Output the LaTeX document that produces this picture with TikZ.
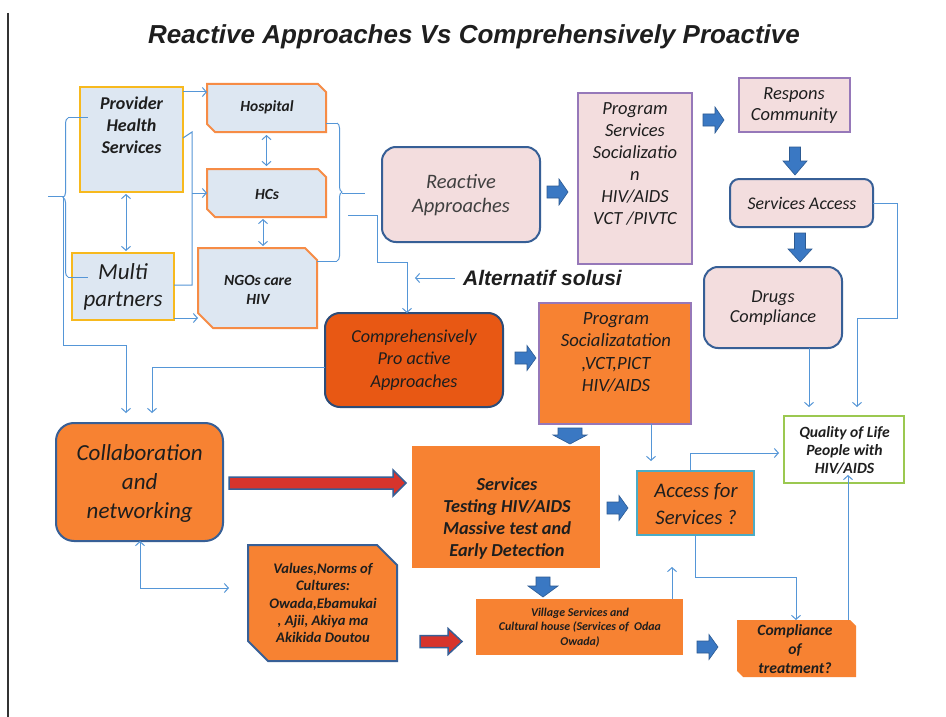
\documentclass[tikz,border=0pt]{standalone}
\usepackage{fontspec}
\setmainfont{Carlito}
\newfontfamily\arialf{Liberation Sans}
\usetikzlibrary{arrows.meta,decorations.pathreplacing}
\newcommand{\fsz}[2]{\fontsize{#1}{#2}\selectfont}
\definecolor{lbfill}{RGB}{221,231,242}
\definecolor{ybord}{RGB}{247,185,30}
\definecolor{obord}{RGB}{246,140,70}
\definecolor{pfill}{RGB}{243,221,222}
\definecolor{dblue}{RGB}{55,95,150}
\definecolor{purp}{RGB}{150,120,185}
\definecolor{ofill}{RGB}{247,130,50}
\definecolor{dofill}{RGB}{232,88,20}
\definecolor{lineblue}{RGB}{85,150,215}
\definecolor{barblue}{RGB}{58,120,195}
\definecolor{barred}{RGB}{215,52,44}
\definecolor{gbord}{RGB}{155,200,80}
\definecolor{cbord}{RGB}{75,172,198}
\definecolor{txtc}{RGB}{30,30,30}
\newcommand{\snip}[4]{%
  \path[#4] (#1.north west) -- ([xshift=-#2]#1.north east) -- ([yshift=-#2]#1.north east)
    -- (#1.south east) -- ([xshift=#3]#1.south west) -- ([yshift=#3]#1.south west) -- cycle;}
\tikzset{
  pics/barrow/.style n args={4}{code={
    \path[pic actions] (0,-#2) -- (#1-#4,-#2) -- (#1-#4,-#3) -- (#1,0) -- (#1-#4,#3) -- (#1-#4,#2) -- (0,#2) -- cycle;}},
  box/.style={inner sep=0pt, outer sep=0pt},
  lbbox/.style={box, fill=lbfill, draw=ybord, line width=1.6pt},
  pinkr/.style={box, fill=pfill, draw=dblue, line width=2pt, rounded corners=14pt},
  pinkq/.style={box, fill=pfill, draw=purp, line width=1.5pt},
  tx/.style={align=center, inner sep=0pt, text=txtc},
  blk/.style={fill=barblue, draw=barblue!75!black, line width=0.6pt},
  redblk/.style={fill=barred, draw=dblue, line width=1.5pt},
  cnn/.style={draw=lineblue, line width=1pt},
  cn/.style={cnn, -{Straight Barb[length=4pt,width=9pt,line width=1pt]}},
  cn2/.style={cnn, {Straight Barb[length=4pt,width=9pt,line width=1pt]}-{Straight Barb[length=4pt,width=9pt,line width=1pt]}},
}
\begin{document}
\begin{tikzpicture}[x=1pt,y=-1pt]
\useasboundingbox (0,0) rectangle (946,717);
\fill[white] (0,0) rectangle (946,717);
\draw[black!80, line width=1.2pt] (8,13) -- (8,717);

% title
\node[tx, font=\arialf\bfseries\itshape\fsz{26}{30}] (title) at (474,37) {Reactive Approaches Vs Comprehensively Proactive};

% ---------- boxes ----------
\node[lbbox, minimum width=103pt, minimum height=105pt] (prov) at (131.5,139.5) {};
\node[lbbox, minimum width=102pt, minimum height=67pt] (multi) at (123,286.5) {};
\node[box, minimum width=119pt, minimum height=48pt] (hosp) at (266.5,108) {};
\node[box, minimum width=119pt, minimum height=48pt] (hcs) at (266.5,193) {};
\node[box, minimum width=119pt, minimum height=80pt] (ngo) at (257.5,288) {};
\snip{hosp}{8pt}{8pt}{fill=lbfill, draw=obord, line width=2pt}
\snip{hcs}{8pt}{8pt}{fill=lbfill, draw=obord, line width=2pt}
\snip{ngo}{12pt}{15pt}{fill=lbfill, draw=obord, line width=2pt}

\node[pinkr, minimum width=158pt, minimum height=95pt] (react) at (461,194.5) {};
\node[pinkq, minimum width=114pt, minimum height=171pt] (progserv) at (635,178.5) {};
\node[pinkq, minimum width=111pt, minimum height=54pt] (resp) at (794.5,105) {};
\node[pinkr, rounded corners=9pt, minimum width=143pt, minimum height=48pt] (sacc) at (801.5,203) {};
\node[pinkr, minimum width=138pt, minimum height=81pt] (drugs) at (773,307.5) {};

\node[box, fill=dofill, draw=dblue!80!black, line width=2pt, rounded corners=15pt, minimum width=178pt, minimum height=94pt] (comp) at (414,360) {};
\node[box, fill=ofill, draw=purp, line width=1.2pt, minimum width=152pt, minimum height=121pt] (progsoc) at (615,363.5) {};
\node[box, fill=ofill, draw=dblue, line width=2pt, rounded corners=18pt, minimum width=167pt, minimum height=118pt] (collab) at (139.5,482) {};
\node[box, fill=ofill, minimum width=188pt, minimum height=122pt] (serv) at (506,507) {};
\node[box, fill=ofill, draw=cbord, line width=1.6pt, minimum width=117pt, minimum height=64pt] (access) at (695.5,503) {};
\node[box, fill=white, draw=gbord, line width=1.6pt, minimum width=120pt, minimum height=67pt] (qol) at (844,449.5) {};
\node[box, minimum width=149pt, minimum height=116pt] (values) at (322.5,603) {};
\snip{values}{20pt}{20pt}{fill=ofill, draw=dblue, line width=2pt}
\node[box, fill=ofill, minimum width=207pt, minimum height=56pt] (village) at (579.5,627) {};
\node[box, minimum width=119pt, minimum height=57pt] (compl) at (796.5,648.5) {};
\snip{compl}{6pt}{6pt}{fill=ofill}

% ---------- texts ----------
\node[tx, font=\bfseries\itshape\fsz{18}{22}] (provT) at (131.5,125) {Provider\\Health\\Services};
\node[tx, font=\itshape\fsz{23}{27}] (multiT) at (123,286.5) {Multi\\partners};
\node[tx, font=\bfseries\itshape\fsz{15.5}{18}] (hospT) at (267,107) {Hospital};
\node[tx, font=\bfseries\itshape\fsz{15.5}{18}] (hcsT) at (267,194) {HCs};
\node[tx, font=\bfseries\itshape\fsz{15.5}{19}] (ngoT) at (258,289.5) {NGOs care\\HIV};
\node[tx, font=\itshape\fsz{20.5}{24}, text=black!75] (reactT) at (461,195) {Reactive\\Approaches};
\node[tx, font=\itshape\fsz{18.5}{22}] (progservT) at (635,164) {Program\\Services\\Socializatio\\n\\HIV/AIDS\\VCT /PIVTC};
\node[tx, font=\itshape\fsz{18.5}{21}] (respT) at (794,105.5) {Respons\\Community};
\node[tx, font=\itshape\fsz{17.8}{21}] (saccT) at (802,203) {Services Access};
\node[tx, font=\itshape\fsz{18.3}{20}] (drugsT) at (773,308) {Drugs\\Compliance};
\node[tx, font=\itshape\fsz{18.2}{22.5}] (compT) at (414,360) {Comprehensively\\Pro active\\Approaches};
\node[tx, font=\itshape\fsz{18.7}{22.3}] (progsocT) at (616,352.5) {Program\\Socializatation\\,VCT,PICT\\HIV/AIDS};
\node[tx, font=\itshape\fsz{23}{29}] (collabT) at (139.7,483) {Collaboration\\and\\networking};
\node[tx, font=\bfseries\itshape\fsz{18.3}{22}] (servT) at (507,519) {Services\\Testing HIV/AIDS\\Massive test and\\Early Detection};
\node[tx, font=\itshape\fsz{20.7}{27}] (accessT) at (696,503.5) {Access for\\Services ?};
\node[tx, font=\bfseries\itshape\fsz{15.6}{18}] (qolT) at (844.5,450) {Quality of Life\\People with\\HIV/AIDS};
\node[tx, font=\bfseries\itshape\fsz{14.6}{17.3}] (valuesT) at (323,603) {Values,Norms of\\Cultures:\\Owada,Ebamukai\\, Ajii, Akiya ma\\Akikida Doutou};
\node[tx, font=\bfseries\itshape\fsz{11.9}{14.5}] (villageT) at (580,627.5) {Village Services and\\Cultural house (Services of~~Odaa\\Owada)};
\node[tx, font=\bfseries\itshape\fsz{15.6}{19}] (complT) at (795,649) {Compliance\\of\\treatment?};
\node[tx, font=\arialf\bfseries\itshape\fsz{21}{24}] (alt) at (542.5,278) {Alternatif solusi};

% ---------- block arrows ----------
\pic[blk] at (547,192) {barrow={21}{6}{13}{9}};
\pic[blk] at (703,120) {barrow={21}{6}{13}{9}};
\pic[blk, rotate=-90] at (795,147) {barrow={28}{5.5}{12}{14}};
\pic[blk, rotate=-90] at (800,233) {barrow={29}{5.5}{12}{13}};
\pic[blk] at (515,358) {barrow={21}{6}{12.5}{9}};
\pic[blk, rotate=-90] at (570,428) {barrow={16}{12}{17}{9}};
\pic[blk] at (607,508) {barrow={21}{6}{12.5}{9}};
\pic[blk, rotate=-90] at (543,577) {barrow={20}{7}{15}{11}};
\pic[blk] at (697,647) {barrow={21}{6}{12.5}{9}};
\pic[redblk] at (229,483) {barrow={177}{6}{13}{13}};
\pic[redblk] at (420,641.5) {barrow={42}{6}{13}{14}};

% ---------- connectors ----------
\draw[cn] (prov.north east |- 0,92) -- (hosp.west |- 0,92);
\draw[cnn] (prov.east |- 0,138) -- (192,132) -- (192,285) -- (multi.east |- 0,285);
\draw[cn] (192,193) -- (hcs.west);
\draw[cn] (multi.east |- 0,318) -- (ngo.west |- 0,318);
\draw[cn2, shorten >=2pt, shorten <=2pt] ([xshift=-5.5pt]prov.south) -- ([xshift=3pt]multi.north);
\draw[cn2, shorten >=3pt, shorten <=3pt] (hosp.south) -- (hcs.north);
\draw[cn2, shorten >=2pt, shorten <=2pt] ([xshift=-3.5pt]hcs.south) -- ([xshift=5.5pt]ngo.north);

% left brace
\draw[cnn, decorate, decoration={brace, amplitude=5pt}] (68,277) -- (68,118);
\draw[cnn] (68,118) -- (88,118);
\draw[cnn] (68,277) -- (88,277);
\draw[cnn] (63,196) -- (48,196);
\coordinate (lefttip) at (63,196);
\draw[cn] (lefttip) -- (63,345) -- (126,345) -- (126,413);
\draw[cn] (comp.west |- 0,367) -- (152,367) -- (152,413);

% right brace
\draw[cnn, decorate, decoration={brace, amplitude=5pt}] (337,123) -- (337,261);
\draw[cnn] (hosp.east |- 0,123) -- (337,123);
\draw[cnn] (ngo.east |- 0,261) -- (337,261);
\draw[cnn] (342,193) -- (365,193);
\draw[cn] (348,215) -- (377,215) -- (377,262) -- (407,262) -- (comp.north -| 407,0);

\draw[cn] ([xshift=-8pt]alt.west) -- ([xshift=-48pt]alt.west);

% right column
\draw[cn] (progsoc.south -| 651,0) -- (651,461);
\draw[cn, shorten >=5pt] (access.north -| 690,0) -- (690,453) -- (qol.west |- 0,453);
\draw[cn] (access.south -| 695,0) -- (695,577) -- (796,577) -- (compl.north -| 796,0);
\draw[cn] (compl.north -| 848,0) -- (848,475);
\draw[cn] (village.north -| 672,0) -- (672,567);
\draw[cn] (sacc.east) -- (897,203) -- (897,318) -- (857,318) -- (857,407);
\draw[cn] (drugs.south -| 809,0) -- (809,407);
\draw[cn2] (collab.south -| 140,0) -- (140,588) -- (229,588);
\end{tikzpicture}
\end{document}
